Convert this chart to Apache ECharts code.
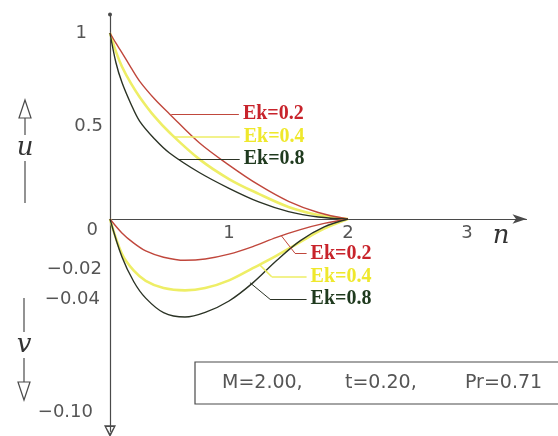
<!DOCTYPE html>
<html>
<head>
<meta charset="utf-8">
<script src="https://cdn.jsdelivr.net/npm/echarts@6/dist/echarts.min.js"></script>
<style>
html, body { margin: 0; padding: 0; background: #fff; }
#chart { width: 558px; height: 436px; }
</style>
</head>
<body>
<div id="chart"></div>
<script>
// eta grid for u (upper) and v (lower) profiles
var etaU = [0, 0.05, 0.1, 0.175, 0.25, 0.375, 0.5, 0.75, 1, 1.25, 1.5, 1.75, 2];
var uEk02 = [1, 0.945, 0.895, 0.815, 0.74, 0.645, 0.565, 0.41, 0.29, 0.183, 0.095, 0.035, 0];
var uEk04 = [1, 0.90, 0.82, 0.73, 0.655, 0.55, 0.465, 0.322, 0.215, 0.135, 0.065, 0.022, 0];
var uEk08 = [1, 0.84, 0.735, 0.62, 0.525, 0.43, 0.355, 0.25, 0.165, 0.092, 0.04, 0.011, 0];

var etaV = [0, 0.1, 0.2, 0.3, 0.45, 0.63, 0.8, 1.0, 1.2, 1.4, 1.6, 1.8, 2];
var vEk02 = [0, -0.0072, -0.0125, -0.0165, -0.0198, -0.0214, -0.0207, -0.0182, -0.0143, -0.0095, -0.0055, -0.0023, 0];
var vEk04 = [0, -0.018, -0.0268, -0.032, -0.0358, -0.037, -0.0358, -0.0318, -0.0255, -0.019, -0.0118, -0.005, 0];
var vEk08 = [0, -0.0196, -0.0325, -0.041, -0.0485, -0.0508, -0.0484, -0.0425, -0.0331, -0.0215, -0.0112, -0.0041, 0];

var seriesNames = ['Ek=0.2', 'Ek=0.4', 'Ek=0.8'];

var etaTicks = [1, 2, 3];
var uTickValues = [0.5, 1];
var uTickLabels = ['0.5', '1'];
var vTickValues = [0, -0.02, -0.04, -0.10];
var vTickLabels = ['0', '\u22120.02', '\u22120.04', '\u22120.10'];

var paramText = ['M=2.00,', 't=0.20,', 'Pr=0.71'];

// styling
var colors = ['#c0473c', '#eeee66', '#2b3325'];
var textColors = ['#c8232b', '#efe82c', '#1f3a1e'];
var widths = [1.4, 2.6, 1.4];
var axisColor = '#4a4a4a';
var tickFont = { fontFamily: 'DejaVu Sans', fontSize: 18, color: '#555' };

// leader lines drawn in data coordinates [eta, value]
var upperLeaders = [
  [[0.515, 0.563], [1.083, 0.563]],
  [[0.543, 0.442], [1.09, 0.442]],
  [[0.571, 0.323], [1.09, 0.323]]
];
var lowerLeaders = [
  [[1.44, -0.0087], [1.555, -0.0178], [1.652, -0.0178]],
  [[1.26, -0.0239], [1.359, -0.0299], [1.652, -0.0299]],
  [[1.176, -0.033], [1.345, -0.0416], [1.652, -0.0416]]
];

function pairs(xs, ys) {
  return xs.map(function (x, i) { return [x, ys[i]]; });
}

function rich(extra) {
  return Object.assign({}, tickFont, extra);
}

var uNudge = { '0.5': 'a', '1': 'b' };
var vNudge = { '0': 'z', '\u22120.02': 'c', '\u22120.04': 'd', '\u22120.10': 'e' };

function tickFormatter(values, labels, nudge) {
  return function (val) {
    for (var i = 0; i < values.length; i++) {
      if (Math.abs(val - values[i]) < 1e-6) {
        return '{' + nudge[labels[i]] + '|' + labels[i] + '}';
      }
    }
    return '';
  };
}

function leaderMarkLine(segs, idx) {
  var data = [];
  for (var i = 0; i < segs.length - 1; i++) {
    var seg = [{ coord: segs[i] }, { coord: segs[i + 1] }];
    if (i === segs.length - 2) {
      seg[0].label = {
        show: true, position: 'end', distance: 4,
        formatter: seriesNames[idx],
        fontFamily: 'Liberation Serif', fontSize: 20, fontWeight: 'bold',
        color: textColors[idx], padding: [10, 0, 0, 0]
      };
    } else {
      seg[0].label = { show: false };
    }
    data.push(seg);
  }
  return {
    silent: true,
    symbol: ['none', 'none'],
    animation: false,
    lineStyle: { color: colors[idx], width: idx === 1 ? 1.6 : 1, type: 'solid' },
    label: { show: false },
    data: data
  };
}

var uSets = [uEk02, uEk04, uEk08];
var vSets = [vEk02, vEk04, vEk08];
var series = [];
uSets.forEach(function (vals, i) {
  series.push({
    name: seriesNames[i], type: 'line', xAxisIndex: 0, yAxisIndex: 0,
    data: pairs(etaU, vals), smooth: 0.35,
    symbol: 'none', lineStyle: { color: colors[i], width: widths[i] },
    z: i === 1 ? 2 : 3,
    markLine: leaderMarkLine(upperLeaders[i], i)
  });
});
vSets.forEach(function (vals, i) {
  series.push({
    name: seriesNames[i], type: 'line', xAxisIndex: 1, yAxisIndex: 1,
    data: pairs(etaV, vals), smooth: 0.35,
    symbol: 'none', lineStyle: { color: colors[i], width: widths[i] },
    z: i === 1 ? 2 : 3,
    markLine: leaderMarkLine(lowerLeaders[i], i)
  });
});

var hollowArrow = 'path://M5,0L10,10L0,10Z M5,3.2L1.9,8.6L8.1,8.6Z';

var option = {
  backgroundColor: '#fff',
  animation: false,
  grid: [
    { left: 110, top: 14.4, width: 416.5, height: 204.6 },
    { left: 110, top: 219, width: 416.5, height: 212.3 }
  ],
  xAxis: [{
    gridIndex: 0, type: 'value', min: 0, max: 3.5, interval: 1,
    axisLine: { show: true, onZero: false, symbol: ['none', 'arrow'], symbolSize: [7, 14],
      lineStyle: { color: axisColor, width: 1.2 } },
    axisTick: { show: false },
    splitLine: { show: false },
    axisLabel: {
      margin: 5, fontFamily: tickFont.fontFamily, fontSize: tickFont.fontSize, color: tickFont.color,
      formatter: function (v) { return etaTicks.indexOf(Math.round(v * 1000) / 1000) >= 0 ? String(v) : ''; }
    }
  }, {
    gridIndex: 1, type: 'value', min: 0, max: 3.5, show: false
  }],
  yAxis: [{
    gridIndex: 0, type: 'value', min: 0, max: 1.1, interval: 0.5,
    axisLine: { show: true, onZero: false, symbol: ['none', 'circle'], symbolSize: [4, 4],
      lineStyle: { color: axisColor, width: 1.2 } },
    axisTick: { show: false },
    splitLine: { show: false },
    axisLabel: {
      margin: 7,
      formatter: tickFormatter(uTickValues, uTickLabels, uNudge),
      rich: { a: rich({ padding: [0, 0, 0, 0] }), b: rich({ padding: [0, 16, 0, 0] }) }
    }
  }, {
    gridIndex: 1, type: 'value', min: -0.11, max: 0, interval: 0.01,
    axisLine: { show: true, onZero: false, symbol: [hollowArrow, 'none'], symbolSize: [13, 12],
      lineStyle: { color: axisColor, width: 1.2 } },
    axisTick: { show: false },
    splitLine: { show: false },
    axisLabel: {
      margin: 7,
      formatter: tickFormatter(vTickValues, vTickLabels, vNudge),
      rich: {
        z: rich({ padding: [22, 5, 0, 0] }),
        c: rich({ padding: [24, 1, 0, 0] }),
        d: rich({ padding: [6, 3, 0, 0] }),
        e: rich({ padding: [0, 10, 0, 0] })
      }
    }
  }],
  series: series,
  graphic: [
    // u arrow
    { type: 'line', shape: { x1: 25, y1: 118, x2: 25, y2: 203 }, style: { stroke: axisColor, lineWidth: 1.2 } },
    { type: 'polygon', shape: { points: [[25, 100], [31, 118], [19, 118]] }, style: { fill: '#fff', stroke: axisColor, lineWidth: 1.2 } },
    { type: 'text', x: 25, y: 148, style: { text: 'u', fontFamily: 'DejaVu Serif', fontStyle: 'italic', fontSize: 26,
      fill: '#333', align: 'center', verticalAlign: 'middle', backgroundColor: '#fff', padding: [0, 2] } },
    // v arrow
    { type: 'line', shape: { x1: 24, y1: 298, x2: 24, y2: 382 }, style: { stroke: axisColor, lineWidth: 1.2 } },
    { type: 'polygon', shape: { points: [[18, 382], [30, 382], [24, 400]] }, style: { fill: '#fff', stroke: axisColor, lineWidth: 1.2 } },
    { type: 'text', x: 24, y: 345, style: { text: 'v', fontFamily: 'DejaVu Serif', fontStyle: 'italic', fontSize: 26,
      fill: '#333', align: 'center', verticalAlign: 'middle', backgroundColor: '#fff', padding: [0, 2] } },
    // eta axis name
    { type: 'text', x: 501, y: 236, style: { text: 'n', fontFamily: 'DejaVu Serif', fontStyle: 'italic', fontSize: 26,
      fill: '#333', align: 'center', verticalAlign: 'middle' } },
    // parameter box
    { type: 'rect', shape: { x: 195, y: 362, width: 380, height: 42 }, style: { fill: 'none', stroke: axisColor, lineWidth: 1.2 } },
    { type: 'text', x: 222, y: 383, style: { text: paramText[0], fontFamily: 'DejaVu Sans', fontSize: 19, fill: '#555', verticalAlign: 'middle' } },
    { type: 'text', x: 345, y: 383, style: { text: paramText[1], fontFamily: 'DejaVu Sans', fontSize: 19, fill: '#555', verticalAlign: 'middle' } },
    { type: 'text', x: 465, y: 383, style: { text: paramText[2], fontFamily: 'DejaVu Sans', fontSize: 19, fill: '#555', verticalAlign: 'middle' } }
  ]
};

var chart = echarts.init(document.getElementById('chart'));
chart.setOption(option);
</script>
</body>
</html>
